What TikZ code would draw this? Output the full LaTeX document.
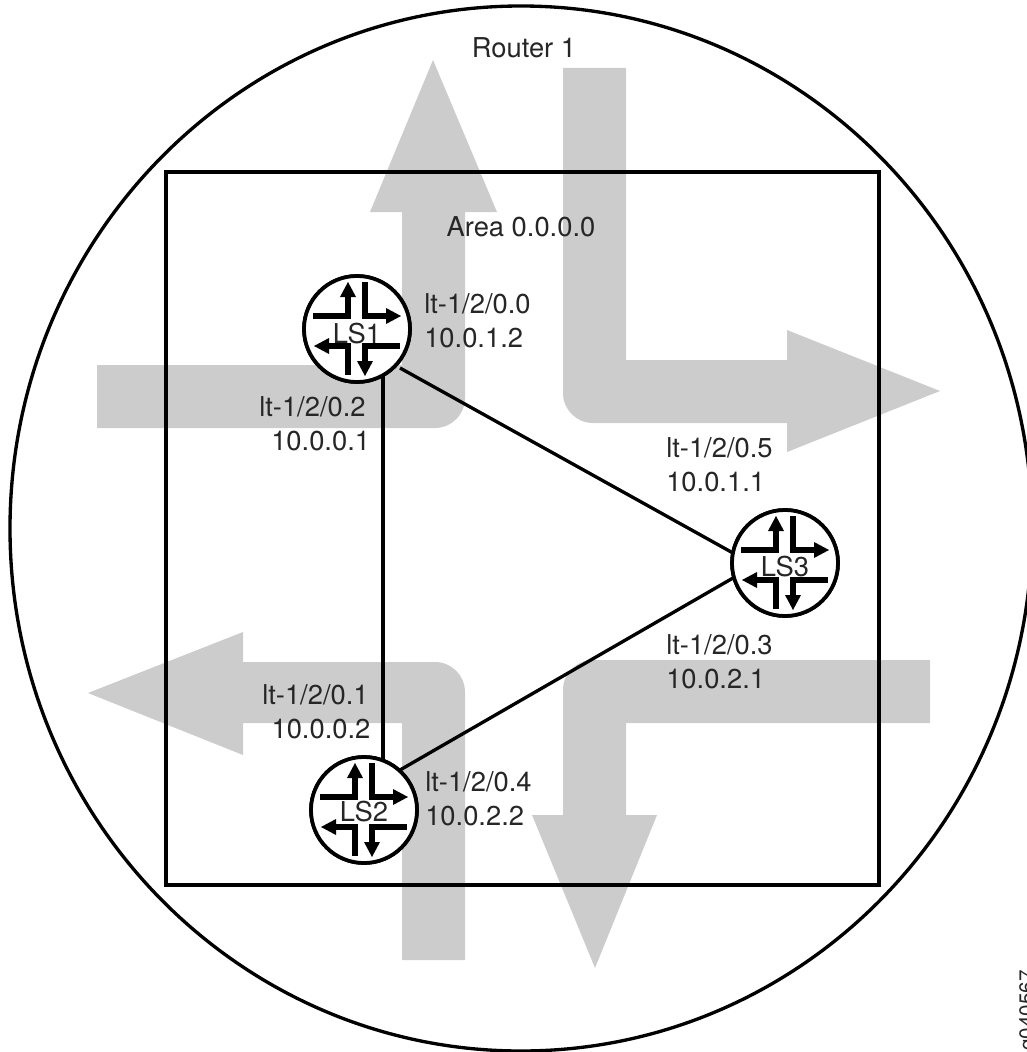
\documentclass[tikz,border=0pt]{standalone}
\usepackage{fontspec}
\setmainfont{TeX Gyre Heros}
\definecolor{band}{HTML}{CCCCCC}
\tikzset{
  bandshape/.style={fill=band,draw=none},
  frame/.style={draw=black,line width=2.5pt},
  link/.style={draw=black,line width=2.5pt},
  routerbox/.style={circle,draw=black,fill=white,line width=2.8pt,minimum size=79.5pt,inner sep=0pt},
  glyph/.style={draw=black,line width=5pt},
  tip/.style={fill=black,draw=none},
  txt/.style={inner sep=0pt,text=black!85,font=\fontsize{20.5}{25.5}\selectfont},
  lbl/.style={txt,align=left,anchor=north west},
}
\newcommand{\routerglyph}[2]{%
  \begin{scope}[shift={(#1,#2)}]
    \draw[glyph] (-44,-13) -- (-9,-13) -- (-9,-33);
    \fill[tip] (-9,-47) -- (-17,-32) -- (-1,-32) -- cycle;
    \draw[glyph] (8,-47) -- (8,-13) -- (30,-13);
    \fill[tip] (44,-13) -- (29,-21) -- (29,-5) -- cycle;
    \draw[glyph] (-28,17) -- (-9,17) -- (-9,46);
    \fill[tip] (-43,17) -- (-28,9) -- (-28,25) -- cycle;
    \draw[glyph] (43,17) -- (8,17) -- (8,32);
    \fill[tip] (8,47) -- (0,32) -- (16,32) -- cycle;
  \end{scope}%
}
\begin{document}
\begin{tikzpicture}[x=0.75pt,y=-0.75pt]
\useasboundingbox (0,0) rectangle (1026,1052);
\draw[frame] (521,528.5) ellipse [x radius=511,y radius=522.5];
% grey flow arrows
\path[bandshape] (97,365) -- (402,365) -- (402,212) -- (370,212) -- (433,60) -- (497,212) -- (465,212) -- (465,398) arc[start angle=0,end angle=90,radius=30] -- (97,428) -- cycle;
\path[bandshape] (563,68) -- (626,68) -- (626,360) -- (787,360) -- (787,330) -- (940,391) -- (787,452) -- (787,423) -- (593,423) arc[start angle=90,end angle=180,radius=30] -- cycle;
\path[bandshape] (88,693) -- (243,632) -- (243,662) -- (435,662) arc[start angle=270,end angle=360,radius=30] -- (465,960) -- (402,960) -- (402,723) -- (243,723) -- (243,755) -- cycle;
\path[bandshape] (930,660) -- (930,723) -- (626,723) -- (626,815) -- (657,815) -- (595,968) -- (532,815) -- (563,815) -- (563,690) arc[start angle=180,end angle=270,radius=30] -- cycle;
\draw[frame] (166,172) rectangle (879,885);
% routers
\node[routerbox] (ls1) at (357,329) {};
\node[routerbox] (ls2) at (364,810) {};
\node[routerbox] (ls3) at (785,563) {};
\coordinate (v1) at (383,370);
\coordinate (v2) at (383,760);
\coordinate (a1) at (400,368);
\coordinate (a3) at (733,553);
\coordinate (b2) at (400,770);
\coordinate (b3) at (733,578);
\draw[link] (v1) -- (v2);
\draw[link] (a1) -- (a3);
\draw[link] (b2) -- (b3);
\node[routerbox] at (ls1) {};
\node[routerbox] at (ls2) {};
\node[routerbox] at (ls3) {};
\routerglyph{357}{329}
\routerglyph{364}{810}
\routerglyph{785}{563}
\node[txt] (t1) at (357,334) {LS1};
\node[txt] (t2) at (364,812) {LS2};
\node[txt] (t3) at (785,567) {LS3};
% labels
\node[txt] (r1) at (524,48) {Router 1};
\node[txt] (a0) at (521,227) {Area 0.0.0.0};
\node[lbl] (l1) at (424,293) {lt-1/2/0.0\\10.0.1.2};
\node[lbl] (l2) at (259,396) {lt-1/2/0.2\\\hspace*{9pt}10.0.0.1};
\node[lbl] (l3) at (666,437) {lt-1/2/0.5\\10.0.1.1};
\node[lbl] (l4) at (666,634) {lt-1/2/0.3\\10.0.2.1};
\node[lbl] (l5) at (262,684) {lt-1/2/0.1\\\hspace*{7pt}10.0.0.2};
\node[lbl] (l6) at (425,771) {lt-1/2/0.4\\10.0.2.2};
\node[rotate=90,anchor=north east,font=\fontsize{15.5}{15.5}\selectfont,text=black!85,inner sep=0pt] (g) at (1019,970) {g040567};
\end{tikzpicture}
\end{document}
